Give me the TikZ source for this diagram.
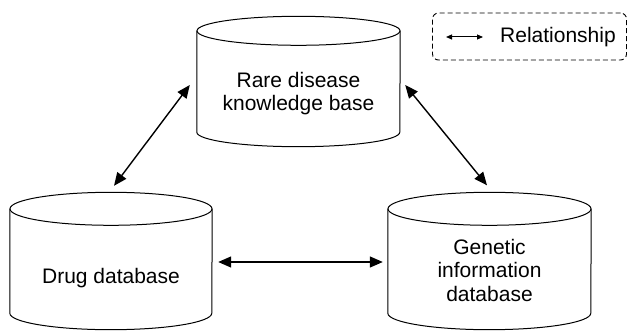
\documentclass[tikz,border=0pt]{standalone}
\usepackage{fontspec}
\setmainfont{Liberation Sans}
\usetikzlibrary{arrows.meta}

\tikzset{
  db/.style={rectangle, inner sep=0pt},
  dbline/.style={line width=1pt},
  dbtext/.style={align=center, inner sep=0pt, font=\fontsize{21}{23.5}\selectfont},
  rel/.style={{Triangle[length=13pt,width=11pt]}-{Triangle[length=13pt,width=11pt]}, line width=1.4pt},
}

% cylinder round a body node: #1 name, #2 x radius, #3 y radius
\newcommand\dbcyl[3]{%
  \draw[dbline] (#1.north west) -- (#1.south west)
    arc[start angle=180, end angle=360, x radius=#2, y radius=#3] -- (#1.north east);
  \draw[dbline] (#1.north) ellipse[x radius=#2, y radius=#3];
}

\begin{document}
\begin{tikzpicture}[x=1pt,y=1pt]

  \useasboundingbox (0,0) rectangle (628,-331);

  \node[db, minimum width=203pt, minimum height=101pt] (rare) at (298.5,-81.5) {};
  \node[db, minimum width=202pt, minimum height=104pt] (drug) at (111,-261) {};
  \node[db, minimum width=203pt, minimum height=104pt] (gene) at (489.5,-261) {};

  \dbcyl{rare}{101.5pt}{14.5pt}
  \dbcyl{drug}{101pt}{16.5pt}
  \dbcyl{gene}{101.5pt}{16.5pt}

  \node[dbtext] (rare-txt) at ([yshift=-12pt]rare) {Rare disease\\knowledge base};
  \node[dbtext] (drug-txt) at ([yshift=-17pt]drug) {Drug database};
  \node[dbtext] (gene-txt) at ([yshift=-9pt]gene) {Genetic\\information\\database};

  \draw[rel] ([xshift=3pt,yshift=23pt]drug.north) -- ([xshift=-7pt,yshift=-3.5pt]rare.west);
  \draw[rel] ([xshift=5pt,yshift=-3.5pt]rare.east) -- ([xshift=-2.5pt,yshift=23.5pt]gene.north);
  \draw[rel] ([xshift=6pt,yshift=-1pt]drug.east) -- ([xshift=-5pt,yshift=-1pt]gene.west);

  % legend
  \node[draw, dash pattern=on 5pt off 3pt, rounded corners=6pt, line width=0.9pt, minimum width=194pt, minimum height=47pt] (legend) at (529.5,-36.5) {};
  \coordinate (la) at (446,-37);
  \coordinate (lb) at (483,-37);
  \draw[{Triangle[length=6pt,width=5pt]}-{Triangle[length=6pt,width=5pt]}, line width=1pt] (la) -- (lb);
  \node[font=\fontsize{21}{23.5}\selectfont, anchor=west, inner sep=0pt] (reltext) at (500,-37) {Relationship};

\end{tikzpicture}
\end{document}
